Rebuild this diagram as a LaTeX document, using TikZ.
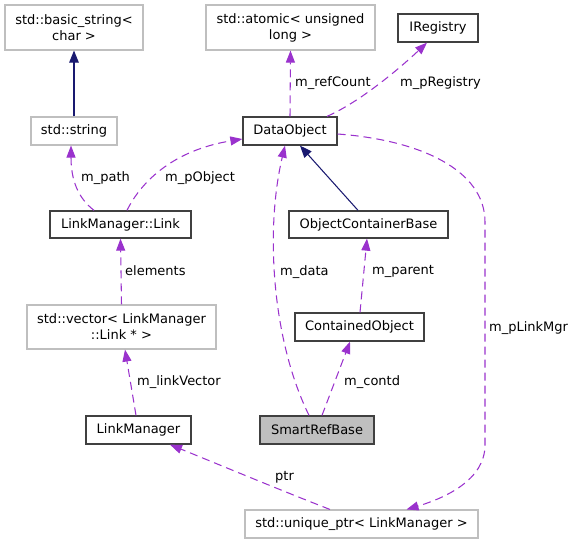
\documentclass[tikz,border=0pt]{standalone}
\usepackage{fontspec}
\setmainfont{DejaVu Sans}
\usetikzlibrary{arrows.meta}
\definecolor{usecol}{HTML}{9A32CD}
\definecolor{inhcol}{HTML}{191970}
\definecolor{grayb}{HTML}{BFBFBF}
\definecolor{blackb}{HTML}{404040}
\definecolor{hilite}{HTML}{BFBFBF}
\begin{document}
\begin{tikzpicture}[x=1pt,y=-1pt,
  every node/.style={font=\fontsize{13}{16}\selectfont, inner sep=0pt},
  cls/.style={draw=blackb, line width=1.3pt, fill=white, minimum width=#1},
  ext/.style={draw=grayb, line width=1.1pt, fill=white, minimum width=#1, align=center},
  use/.style={draw=usecol, line width=1.05pt, dash pattern=on 8pt off 5pt, -{Triangle[length=12pt,width=9pt,fill=usecol]}},
  inh/.style={draw=inhcol, line width=1.05pt, -{Triangle[length=12pt,width=9.5pt,fill=inhcol]}},
  lbl/.style={anchor=west}
]
\useasboundingbox (0,0) rectangle (575,544);
% nodes
\node[ext=138, minimum height=45] (bs) at (74,27.5) {std::basic\_string<\\char >};
\node[ext=169, minimum height=45] (atomic) at (290.5,27.5) {std::atomic< unsigned\\long >};
\node[cls=80, minimum height=28] (ireg) at (438,28) {IRegistry};
\node[ext=86, minimum height=28] (str) at (74,131) {std::string};
\node[cls=94, minimum height=28] (dobj) at (290,131) {DataObject};
\node[cls=141, minimum height=27] (link) at (120.5,224.5) {LinkManager::Link};
\node[cls=159, minimum height=27] (ocb) at (368.5,224.5) {ObjectContainerBase};
\node[ext=189, minimum height=44] (vec) at (121.5,327) {std::vector< LinkManager\\::Link * >};
\node[cls=129, minimum height=28] (co) at (359.5,327) {ContainedObject};
\node[cls=105, minimum height=28] (lm) at (138.5,430) {LinkManager};
\node[cls=114, minimum height=28, fill=hilite] (srb) at (317,430) {SmartRefBase};
\node[ext=233, minimum height=28] (up) at (361.5,524) {std::unique\_ptr< LinkManager >};
% edges
\draw[inh] (str.north) -- (bs.south);
\draw[use] (dobj.north) -- (atomic.south);
\node[lbl] (l1) at (295,83) {m\_refCount};
\draw[use] ([xshift=37pt]dobj.north) .. controls (360,102) and (400,68) .. ([xshift=-11pt]ireg.south);
\node[lbl] (l2) at (400,83) {m\_pRegistry};
\draw[use] ([xshift=-26.5pt]link.north) .. controls (78,198) and (71,180) .. ([xshift=-3pt]str.south);
\node[lbl] (l3) at (81,178) {m\_path};
\draw[use] ([xshift=6.5pt]link.north) .. controls (142,180) and (175,150) .. ([yshift=-8pt]dobj.west);
\node[lbl] (l4) at (165,178) {m\_pObject};
\draw[inh] ([xshift=-10.5pt]ocb.north) -- ([xshift=10pt]dobj.south);
\draw[use] ([xshift=-8pt]srb.north) .. controls (272,340) and (265,230) .. ([xshift=-5pt]dobj.south);
\node[lbl] (l5) at (280,272) {m\_data};
\draw[use] ([xshift=0.5pt]co.north) -- ([xshift=-1.5pt]ocb.south);
\node[lbl] (l6) at (372,271) {m\_parent};
\draw[use] ([xshift=5pt]srb.north) -- ([xshift=-9.5pt]co.south);
\node[lbl] (l7) at (344,382) {m\_contd};
\draw[use] (vec.north) -- (link.south);
\node[lbl] (l8) at (125,271) {elements};
\draw[use] ([xshift=-2.5pt]lm.north) -- ([xshift=3.5pt]vec.south);
\node[lbl] (l9) at (137,382) {m\_linkVector};
\draw[use] ([xshift=-31.5pt]up.north) .. controls (280,490) and (220,465) .. ([xshift=31.5pt]lm.south);
\node[lbl] (l10) at (275,477) {ptr};
\draw[use] ([yshift=-3pt]dobj.east) .. controls (420,140) and (485,170) .. (485,222) -- (485,445) .. controls (485,480) and (445,498) .. ([xshift=45pt]up.north);
\node[lbl] (l11) at (489,328) {m\_pLinkMgr};
\end{tikzpicture}
\end{document}
